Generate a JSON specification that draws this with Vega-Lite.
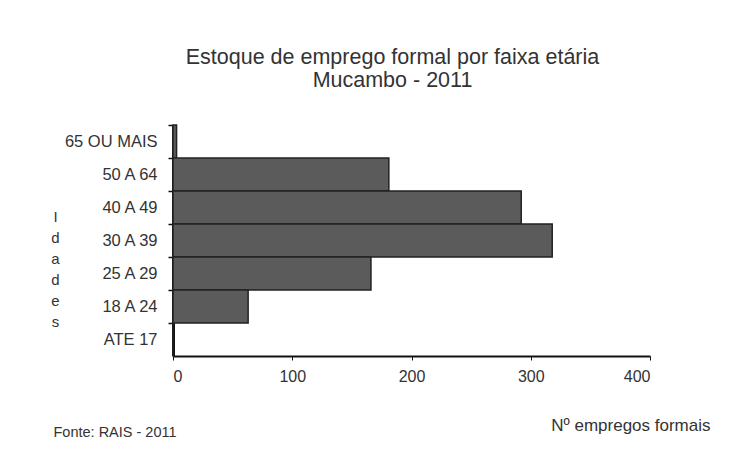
{
  "$schema": "https://vega.github.io/schema/vega-lite/v6.json",
  "autosize": {"type": "none"},
  "width": 477,
  "height": 231,
  "padding": {"left": 173, "top": 125, "right": 87, "bottom": 104},
  "background": "#ffffff",
  "config": {
    "font": "Liberation Sans",
    "view": {"stroke": null}
  },
  "title": {
    "text": ["Estoque de emprego formal por faixa etária", "Mucambo - 2011"],
    "fontSize": 21.5,
    "fontWeight": "normal",
    "font": "Liberation Sans",
    "color": "#333333",
    "anchor": "middle",
    "frame": "group",
    "dx": -19,
    "offset": 33,
    "lineHeight": 23
  },
  "data": {
    "values": [
      {"faixa": "65 OU MAIS", "empregos": 3},
      {"faixa": "50 A 64", "empregos": 181},
      {"faixa": "40 A 49", "empregos": 292},
      {"faixa": "30 A 39", "empregos": 318},
      {"faixa": "25 A 29", "empregos": 166},
      {"faixa": "18 A 24", "empregos": 63},
      {"faixa": "ATE 17", "empregos": 0}
    ]
  },
  "layer": [
    {
      "mark": {"type": "bar", "fill": "#5b5b5b", "stroke": "#222222", "strokeWidth": 1.5},
      "encoding": {
        "y": {
          "field": "faixa",
          "type": "nominal",
          "sort": null,
          "scale": {"paddingInner": 0, "paddingOuter": 0},
          "axis": {
            "title": ["I", "d", "a", "d", "e", "s"],
            "titleAngle": 0,
            "titleAlign": "center",
            "titleBaseline": "top",
            "titleX": -118,
            "titleY": 84,
            "titleLineHeight": 21,
            "titleFontSize": 15,
            "titleFontWeight": "normal",
            "titleColor": "#333333",
            "labelFontSize": 16.5,
            "labelColor": "#333333",
            "labelPadding": 11,
            "bandPosition": 0,
            "tickSize": 5,
            "tickColor": "#111111",
            "tickWidth": 1.5,
            "domainColor": "#111111",
            "domainWidth": 3
          }
        },
        "x": {
          "field": "empregos",
          "type": "quantitative",
          "scale": {"domain": [0, 400], "nice": false},
          "axis": {
            "values": [0, 100, 200, 300, 400],
            "grid": false,
            "title": "Nº empregos formais",
            "titleX": 537,
            "titleY": 69,
            "titleAlign": "right",
            "titleBaseline": "middle",
            "titleFontSize": 17,
            "titleFontWeight": "normal",
            "titleColor": "#333333",
            "labelFontSize": 16,
            "labelColor": "#333333",
            "labelPadding": 8,
            "tickSize": 4,
            "tickColor": "#111111",
            "domainColor": "#111111",
            "domainWidth": 2
          }
        }
      }
    },
    {
      "mark": {"type": "rule", "opacity": 0},
      "encoding": {
        "x": {
          "field": "empregos",
          "type": "quantitative",
          "axis": {
            "orient": "top",
            "labels": false,
            "ticks": false,
            "domain": false,
            "grid": false,
            "title": "Fonte: RAIS - 2011",
            "titleX": -120,
            "titleY": 307,
            "titleAlign": "left",
            "titleBaseline": "middle",
            "titleAngle": 0,
            "titleFontSize": 14.5,
            "titleFontWeight": "normal",
            "titleColor": "#333333"
          }
        }
      }
    }
  ],
  "resolve": {"scale": {"x": "independent"}, "axis": {"x": "independent"}}
}
